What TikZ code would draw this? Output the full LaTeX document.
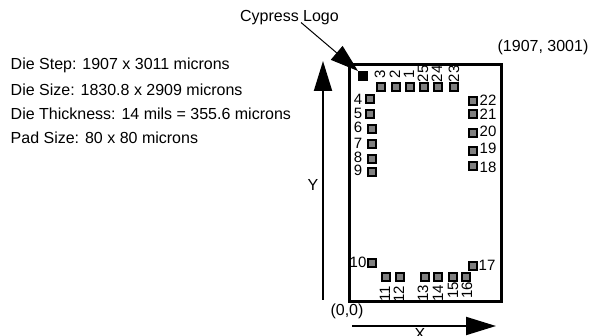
\documentclass[tikz,border=0pt]{standalone}
\usepackage{fontspec}
\setmainfont{Liberation Sans}
\usetikzlibrary{arrows.meta}
\tikzset{
    padbox/.style={draw=black,fill=gray,line width=2pt,minimum size=8.5pt,inner sep=0pt,outer sep=0pt},
    logobox/.style={fill=black,minimum size=10pt,inner sep=0pt,outer sep=0pt},
    padnum/.style={inner sep=0pt,font=\fontsize{15}{15}\selectfont},
    padnumv/.style={padnum,rotate=90},
    plain/.style={inner sep=0pt,font=\fontsize{16}{16}\selectfont},
    bigarrow/.style={-{Triangle[length=30pt,width=18pt]},line width=2pt},
    logoarrow/.style={-{Triangle[length=28pt,width=18pt]},line width=1pt}
}
\begin{document}
\begin{tikzpicture}[x=1pt,y=-1pt]
    \useasboundingbox (0,0) rectangle (591,336);
    % notes
    \node[plain,anchor=west] (step) at (10.5,65.5) {Die Step: 1907 x 3011 microns};
    \node[plain,anchor=west] (size) at (10.5,89.5) {Die Size: 1830.8 x 2909 microns};
    \node[plain,anchor=west] (thick) at (10.5,113.5) {Die Thickness: 14 mils = 355.6 microns};
    \node[plain,anchor=west] (padsize) at (10.5,137.5) {Pad Size: 80 x 80 microns};
    % die
    \draw[line width=3pt] (349.5,64.5) rectangle (501.5,302);
    \node[logobox] (logo) at (363,76) {};
    \node[plain,anchor=east] (logotext) at (339,18) {Cypress Logo};
    \node[plain] (corner) at (543,47.5) {(1907, 3001)};
    \node[plain] (origin) at (347,311) {(0,0)};
    % pads
    \foreach \name/\px/\py in {3/381/87,2/396/87,1/410/87,25/424/87,24/438/87,23/454/87,
        4/370/99,5/370/114,6/372/129,7/372/144,8/372/159,9/372/172,10/372/263,
        11/386/277,12/400/277,13/425/277,14/438/277,15/453/277,16/466/277,
        17/473/266,18/473/166,19/473/151,20/473/133,21/473/114,22/473/101}
        \node[padbox] (pad\name) at (\px,\py) {};
    % numbers
    \foreach \name/\px/\py in {4/358/99,5/358/113.5,6/358/127.5,7/358/143,8/358/157,9/358/170.5,10/358/262,
        17/487/265,18/488/167,19/488/148,20/488/131,21/488/114,22/488/100}
        \node[padnum] (num\name) at (\px,\py) {\name};
    \foreach \name/\px/\py in {3/380/74,2/395/74,1/409/74,25/423/74,24/437/74,23/454/74,
        11/385/294,12/399/294,13/423/293,14/438/293,15/453/290,16/467/290}
        \node[padnumv] (num\name) at (\px,\py) {\name};
    % axes
    \coordinate (ybase) at (323,300);
    \coordinate (ytip) at (323,61);
    \coordinate (xbase) at (352,326);
    \coordinate (xtip) at (496,326);
    \coordinate (logobase) at (301,22.5);
    \draw[bigarrow] (ybase) -- (ytip);
    \draw[bigarrow] (xbase) -- (xtip);
    \draw[logoarrow] (logobase) -- (logo.north west);
    \node[plain] (ylabel) at (313,185) {Y};
    \node[plain] (xlabel) at (420,333.5) {X};
\end{tikzpicture}
\end{document}
